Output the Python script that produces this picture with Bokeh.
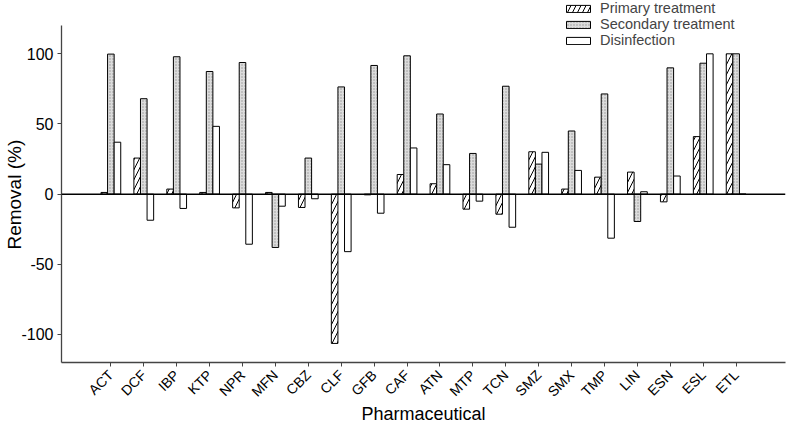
from bokeh.plotting import figure
from bokeh.models import (FactorRange, Span, Legend, LegendItem, FixedTicker,
                          ColumnDataSource, PrintfTickFormatter)
from bokeh.transform import dodge
from bokeh.embed import file_html
from bokeh.resources import INLINE
import math

drugs = ["ACT", "DCF", "IBP", "KTP", "NPR", "MFN", "CBZ", "CLF", "GFB", "CAF",
         "ATN", "MTP", "TCN", "SMZ", "SMX", "TMP", "LIN", "ESN", "ESL", "ETL"]
primary = [1.2, 25.7, 3.6, 1.2, -9.8, 1.2, -9.5, -106.4, -0.5, 14.0,
           7.4, -10.7, -14.3, 30.2, 3.6, 12.1, 15.7, -5.5, 41.0, 100.0]
secondary = [99.8, 68.0, 97.9, 87.4, 93.8, -38.0, 25.7, 76.4, 91.7, 98.6,
             57.1, 29.0, 76.9, 21.4, 45.0, 71.4, -19.5, 90.0, 93.3, 100.0]
disinfection = [37.0, -18.6, -10.2, 48.3, -35.7, -8.6, -3.3, -41.0, -13.6, 32.9,
                21.0, -5.0, -23.6, 29.8, 16.9, -31.4, 1.7, 12.9, 100.0, 0.0]
y_ticks = [-100, -50, 0, 50, 100]

src = ColumnDataSource(dict(drug=drugs, primary=primary, secondary=secondary,
                            disinfection=disinfection))

FONT = "Liberation Sans"

p = figure(x_range=FactorRange(*drugs, range_padding=1, range_padding_units="absolute"),
           y_range=(-120, 138), width=787, height=427,
           output_backend="svg", toolbar_location=None,
           min_border_left=61, min_border_right=2, min_border_top=0, min_border_bottom=65)

w = 0.2
r1 = p.vbar(x=dodge("drug", -0.2, range=p.x_range), top="primary", bottom=0, width=w,
            source=src, fill_color="white", line_color="black", line_width=1,
            hatch_pattern="/", hatch_color="black", hatch_scale=10, hatch_weight=1)
r2 = p.vbar(x=dodge("drug", 0.0, range=p.x_range), top="secondary", bottom=0, width=w,
            source=src, fill_color="#dcdcdc", line_color="black", line_width=1,
            hatch_pattern="dot", hatch_color="#959595", hatch_scale=3, hatch_weight=1)
r3 = p.vbar(x=dodge("drug", 0.2, range=p.x_range), top="disinfection", bottom=0, width=w,
            source=src, fill_color="white", line_color="black", line_width=1)

p.add_layout(Span(location=0, dimension="width", line_color="black", line_width=1.5))

legend = Legend(items=[LegendItem(label="Primary treatment", renderers=[r1]),
                       LegendItem(label="Secondary treatment", renderers=[r2]),
                       LegendItem(label="Disinfection", renderers=[r3])],
                location=(502, 314), orientation="vertical",
                background_fill_alpha=0, border_line_color=None,
                padding=0, margin=0, spacing=0,
                glyph_width=30, glyph_height=9, label_height=16,
                label_text_font=FONT, label_text_font_size="14.5px",
                label_standoff=7)
p.add_layout(legend, "center")

p.xgrid.grid_line_color = None
p.ygrid.grid_line_color = None
p.outline_line_color = None

p.yaxis.ticker = FixedTicker(ticks=y_ticks)
p.yaxis.formatter = PrintfTickFormatter(format="%d")
p.yaxis.bounds = (-120, 120)
for ax in (p.xaxis, p.yaxis):
    ax.axis_line_color = "#444444"
    ax.axis_line_width = 1.3
    ax.major_tick_line_color = "#444444"
    ax.major_tick_out = 4
    ax.major_tick_in = 0
    ax.minor_tick_line_color = None
    ax.major_label_text_font = FONT
    ax.major_label_text_color = "black"
    ax.axis_label_text_font = FONT
    ax.axis_label_text_font_style = "normal"
    ax.axis_label_text_color = "black"

p.yaxis.major_label_text_font_size = "16px"
p.yaxis.major_label_standoff = 4
p.yaxis.axis_label_standoff = -7
p.yaxis.axis_label_text_font_size = "19px"
p.xaxis.major_label_text_font_size = "14px"
p.xaxis.major_label_standoff = 6
p.xaxis.axis_label_standoff = -4
p.xaxis.axis_label_text_font_size = "18px"
p.xaxis.major_label_orientation = math.pi / 4
p.xaxis.axis_label = "Pharmaceutical"
p.yaxis.axis_label = "Removal (%)" + "\u00a0" * 5

open("out.html", "w").write(file_html(p, INLINE))
